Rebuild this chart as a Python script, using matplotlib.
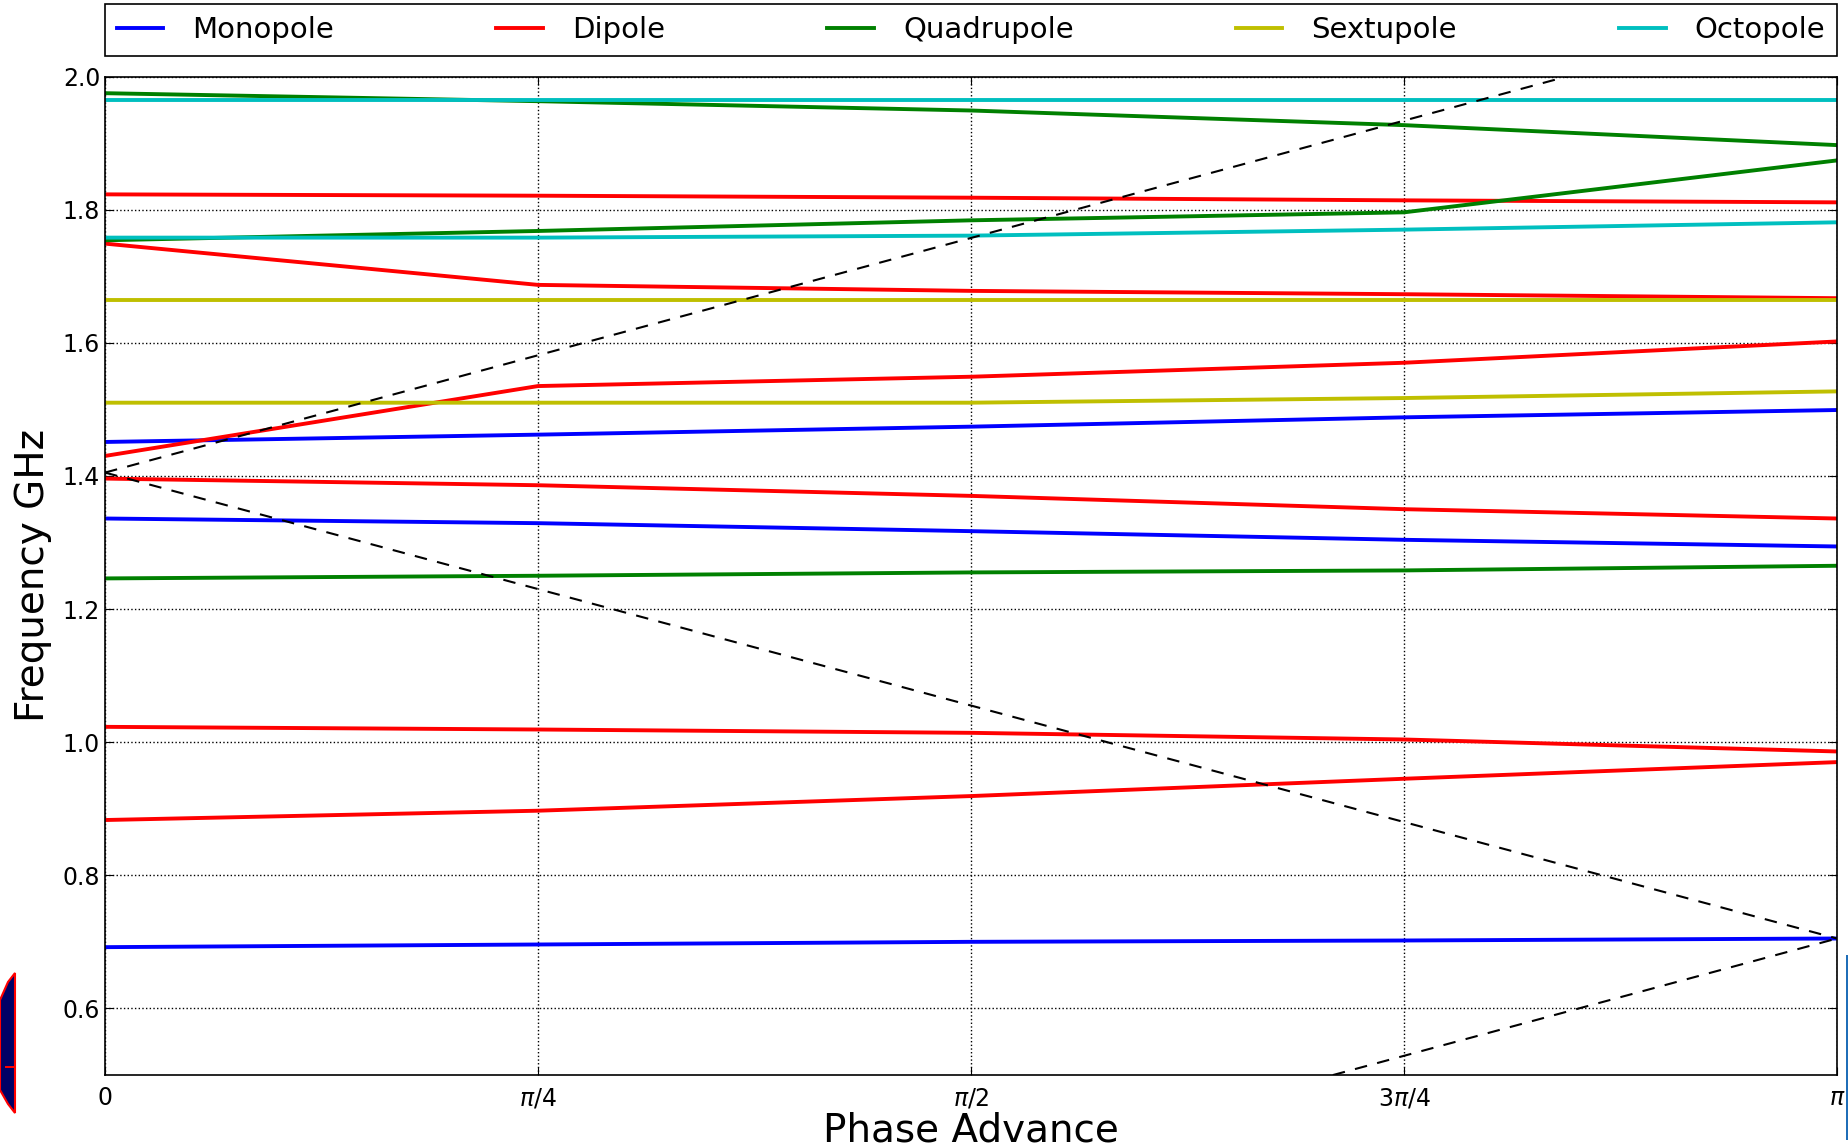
import numpy as np
import matplotlib.pyplot as plt
from matplotlib.patches import Polygon, Rectangle

# phase advance points where the bands were computed
phase = [0, np.pi / 4, np.pi / 2, 3 * np.pi / 4, np.pi]

# band frequencies in GHz, one list per band
monopole = [
    [0.692, 0.696, 0.700, 0.702, 0.705],
    [1.336, 1.329, 1.317, 1.304, 1.294],
    [1.451, 1.462, 1.474, 1.488, 1.499],
]
dipole = [
    [0.883, 0.897, 0.919, 0.945, 0.970],
    [1.023, 1.019, 1.014, 1.004, 0.986],
    [1.396, 1.386, 1.370, 1.350, 1.336],
    [1.430, 1.535, 1.549, 1.570, 1.602],
    [1.749, 1.687, 1.678, 1.673, 1.667],
    [1.823, 1.821, 1.818, 1.814, 1.811],
]
quadrupole = [
    [1.246, 1.250, 1.255, 1.258, 1.265],
    [1.754, 1.768, 1.784, 1.796, 1.874],
    [1.975, 1.963, 1.949, 1.927, 1.897],
]
sextupole = [
    [1.510, 1.510, 1.510, 1.517, 1.527],
    [1.664, 1.664, 1.664, 1.664, 1.664],
]
octopole = [
    [1.758, 1.758, 1.761, 1.770, 1.781],
    [1.965, 1.965, 1.965, 1.965, 1.965],
]

# folded light lines (end points)
light_x = [0, np.pi]
light_lines = [
    [0.0, 0.705],
    [1.405, 0.705],
    [1.405, 2.110],
]

families = [
    ("Monopole", monopole, (0, 0, 1)),
    ("Dipole", dipole, (1, 0, 0)),
    ("Quadrupole", quadrupole, (0, 0.5, 0)),
    ("Sextupole", sextupole, (0.75, 0.75, 0)),
    ("Octopole", octopole, (0, 0.75, 0.75)),
]

fig = plt.figure(figsize=(18.49, 11.46), dpi=100)
ax = fig.add_axes([0.0568, 0.062, 0.9367, 0.8712])

for name, bands, col in families:
    for i, band in enumerate(bands):
        ax.plot(phase, band, color=col, lw=2.8, label=name if i == 0 else None)

for ly in light_lines:
    ax.plot(light_x, ly, color='k', lw=1.5, dashes=(6, 5), zorder=5)

ax.set_xlim(0, np.pi)
ax.set_ylim(0.5, 2.0)
ax.set_xticks(phase)
ax.set_xticklabels(['0', r'$\pi/4$', r'$\pi/2$', r'$3\pi/4$', r'$\pi$'])
ax.set_yticks([0.6, 0.8, 1.0, 1.2, 1.4, 1.6, 1.8, 2.0])
ax.tick_params(direction='in', length=6, labelsize=17, top=True, right=True)
ax.tick_params(axis='x', pad=8)
ax.grid(True, color='k', linestyle=':', lw=1)
for s in ax.spines.values():
    s.set_linewidth(1.2)

ax.set_xlabel('Phase Advance', fontsize=28, labelpad=1)
ax.set_ylabel('Frequency GHz', fontsize=28, labelpad=8)

leg = ax.legend(loc='lower left', bbox_to_anchor=(0, 1.021, 1, 0.05), mode='expand',
                ncol=5, borderaxespad=0, fontsize=21, handlelength=1.6,
                handletextpad=1.0, fancybox=False, framealpha=1)
leg.get_frame().set_edgecolor('k')
leg.get_frame().set_linewidth(1.2)

# pieces of the slide showing at the edges
W, H = 1849.0, 1146.0
fig.patches.append(Polygon([(0, 1 - 1000 / H), (8 / W, 1 - 982 / H), (15 / W, 1 - 973 / H),
                            (15 / W, 1 - 1113 / H), (8 / W, 1 - 1104 / H), (0, 1 - 1090 / H)],
                           closed=True, transform=fig.transFigure,
                           facecolor='#000066', edgecolor='red', lw=1.5))
fig.patches.append(Rectangle((5 / W, 1 - 1068 / H), 10 / W, 2 / H, transform=fig.transFigure,
                             facecolor='red', edgecolor='none'))
fig.patches.append(Rectangle((1846 / W, 1 - 1140 / H), 3 / W, 185 / H, transform=fig.transFigure,
                             facecolor='#1f6eb8', edgecolor='none'))

fig.savefig('out.png', dpi=100)
